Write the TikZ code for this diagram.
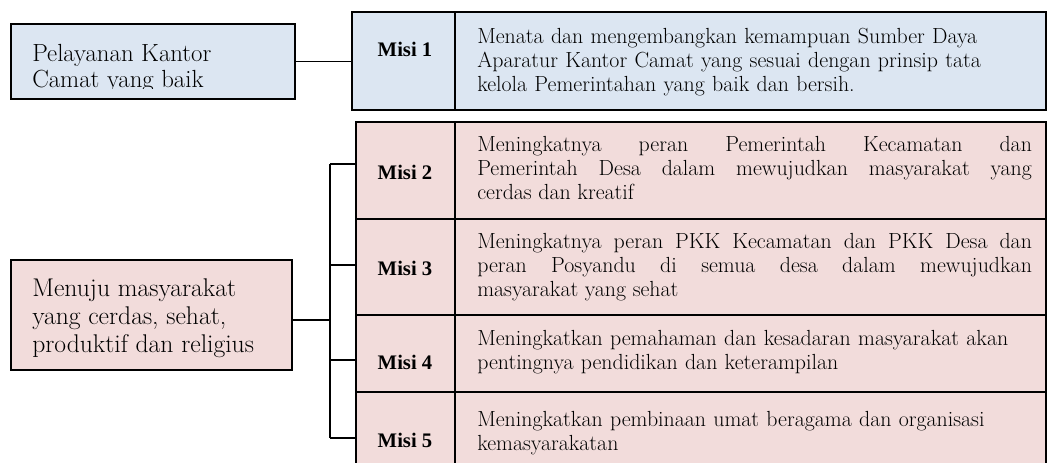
\documentclass[tikz,border=0pt]{standalone}
\usepackage{fontspec}
\newfontfamily\misifont{Liberation Serif}
\usetikzlibrary{fit}
\definecolor{misiblue}{RGB}{220,230,242}
\definecolor{misipink}{RGB}{242,220,219}

\begin{document}
\begin{tikzpicture}[x=0.75pt,y=0.75pt,yscale=-1,xscale=1,
  box/.style={draw, line width=1.1pt, inner sep=0pt},
  goaltext/.style={anchor=west, inner sep=0pt, align=left},
  misitext/.style={anchor=base, inner sep=0pt, font=\misifont\bfseries\fontsize{15.5}{18}\selectfont},
  desctext/.style={anchor=west, inner sep=0pt, text width=416pt, font=\fontsize{16.4}{18}\selectfont},
  link/.style={line width=1.1pt}]
\useasboundingbox (0,0) rectangle (1048,462);

%Shape: Rectangle (upper goal)
\node[box, fill=misiblue, fit={(11,24) (295,99)}] (goalA) {};
\begin{scope}
\clip (11,24) rectangle (295,88);
\node[goaltext, font=\fontsize{18.6}{19.5}\selectfont] (goalAtext) at (32,68) {Pelayanan Kantor\\Camat yang baik};
\end{scope}

%Shape: Rectangle (lower goal)
\node[box, fill=misipink, fit={(11,260) (292,370)}] (goalB) {};
\node[goaltext, font=\fontsize{19.2}{21}\selectfont] (goalBtext) at (32,318) {Menuju masyarakat\\yang cerdas, sehat,\\produktif dan religius};

%Shape: Rectangle (misi 1)
\node[box, fill=misiblue, fit={(352,12) (455,110)}] (misi1) {};
\node[box, fill=misiblue, fit={(455,12) (1046,110)}] (desc1) {};
\node[misitext] (misi1lbl) at (405,56) {Misi 1};
\node[desctext, align=left] (desc1text) at (477,62) {Menata dan mengembangkan kemampuan Sumber Daya\\Aparatur Kantor Camat yang sesuai dengan prinsip tata\\kelola Pemerintahan yang baik dan bersih.};

%Shape: Rectangle (misi 2)
\node[box, fill=misipink, fit={(356,122) (455,219)}] (misi2) {};
\node[box, fill=misipink, fit={(455,122) (1046,219)}] (desc2) {};
\node[misitext] (misi2lbl) at (405,179) {Misi 2};
\node[desctext, align=justify] (desc2text) at (477,168) {Meningkatnya peran Pemerintah Kecamatan dan\linebreak Pemerintah Desa dalam mewujudkan masyarakat yang\linebreak cerdas dan kreatif};

%Shape: Rectangle (misi 3)
\node[box, fill=misipink, fit={(356,219) (455,315)}] (misi3) {};
\node[box, fill=misipink, fit={(455,219) (1046,315)}] (desc3) {};
\node[misitext] (misi3lbl) at (405,275) {Misi 3};
\node[desctext, align=justify] (desc3text) at (477,267) {Meningkatnya peran PKK Kecamatan dan PKK Desa dan\linebreak peran Posyandu di semua desa dalam mewujudkan\linebreak masyarakat yang sehat};

%Shape: Rectangle (misi 4)
\node[box, fill=misipink, fit={(356,315) (455,392)}] (misi4) {};
\node[box, fill=misipink, fit={(455,315) (1046,392)}] (desc4) {};
\node[misitext] (misi4lbl) at (405,369) {Misi 4};
\node[desctext, align=left] (desc4text) at (477,352) {Meningkatkan pemahaman dan kesadaran masyarakat akan\\pentingnya pendidikan dan keterampilan};

%Shape: Rectangle (misi 5)
\node[box, fill=misipink, fit={(356,392) (455,472)}] (misi5) {};
\node[box, fill=misipink, fit={(455,392) (1046,472)}] (desc5) {};
\node[misitext] (misi5lbl) at (405,447) {Misi 5};
\node[desctext, align=left] (desc5text) at (477,433) {Meningkatkan pembinaan umat beragama dan organisasi\\kemasyarakatan};

%Straight Lines
\draw[link] (goalA.east) -- (goalA.east -| misi1.west);
\coordinate (fork) at (330,320);
\coordinate (t2) at (330,164);
\coordinate (t3) at (330,265);
\coordinate (t4) at (330,360);
\coordinate (t5) at (330,438);
\draw[link] (goalB.east |- fork) -- (fork);
\draw[link] (t2) -- (t5);
\foreach \k in {2,...,5}
  \draw[link] (t\k) -- (t\k -| misi\k.west);

\end{tikzpicture}
\end{document}
